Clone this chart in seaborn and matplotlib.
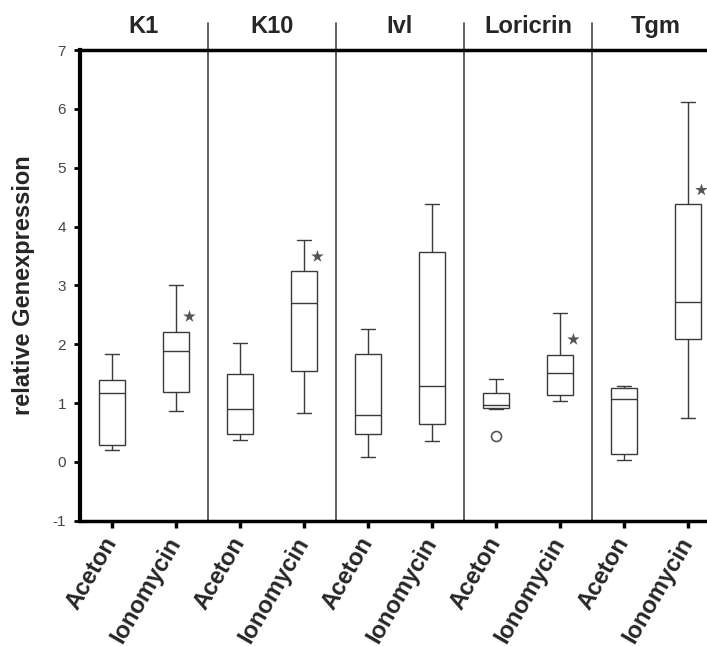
import numpy as np
import pandas as pd
import seaborn as sns
import matplotlib.pyplot as plt
from matplotlib.transforms import blended_transform_factory

# ---- data ----
genes = ["K1", "K10", "Ivl", "Loricrin", "Tgm"]
treatments = ["Aceton", "Ionomycin"]
# five-number summary of each box, order: K1-Aceton, K1-Ionomycin, K10-Aceton, ...
whisker_low = [0.21, 0.87, 0.37, 0.83, 0.08, 0.35, 0.89, 1.03, 0.03, 0.75]
q1 = [0.28, 1.18, 0.48, 1.54, 0.48, 0.65, 0.91, 1.13, 0.13, 2.09]
median = [1.17, 1.88, 0.90, 2.70, 0.79, 1.29, 0.97, 1.51, 1.07, 2.71]
q3 = [1.39, 2.21, 1.49, 3.24, 1.84, 3.57, 1.17, 1.82, 1.25, 4.39]
whisker_high = [1.84, 3.00, 2.02, 3.77, 2.26, 4.38, 1.41, 2.53, 1.29, 6.11]
# outlier points
outlier_gene = ["Loricrin"]
outlier_treatment = ["Aceton"]
outlier_value = [0.44]
# significance stars (next to Ionomycin boxes)
star_gene = ["K1", "K10", "Loricrin", "Tgm"]
star_value = [2.47, 3.49, 2.08, 4.62]

# ---- build long table ----
keys = [f"{g}|{t}" for g in genes for t in treatments]
rows = []
for i, k in enumerate(keys):
    for v in (whisker_low[i], q1[i], median[i], q3[i], whisker_high[i]):
        rows.append({"key": k, "value": v})
df = pd.DataFrame(rows)

sns.set_style("ticks")
plt.rcParams["font.family"] = ["Liberation Sans", "DejaVu Sans"]

W, H = 707, 646
fig = plt.figure(figsize=(W / 100, H / 100), dpi=100)
ax = fig.add_axes([80 / W, (H - 520.7) / H, 640 / W, 470.7 / H])

line_col = "#3a3a3a"
sns.boxplot(data=df, x="key", y="value", order=keys, width=0.41,
            color="white", linecolor=line_col, linewidth=1.0,
            fliersize=0, whis=1.5, ax=ax)

# outliers
ox = [keys.index(f"{g}|{t}") for g, t in zip(outlier_gene, outlier_treatment)]
sns.scatterplot(x=ox, y=outlier_value, marker="o", s=52, facecolor="white",
                edgecolor="#555555", linewidth=1.2, ax=ax, legend=False, zorder=5)

# stars
sx = [keys.index(f"{g}|Ionomycin") + 0.21 for g in star_gene]
sns.scatterplot(x=sx, y=star_value, marker="*", s=90, color="#555555",
                edgecolor="none", ax=ax, legend=False, zorder=5, clip_on=False)

ax.set_xlim(-0.5, len(keys) - 0.5)
ax.set_ylim(-1, 7)

# spines
ax.spines["right"].set_visible(False)
ax.spines["top"].set_linewidth(2.5)
ax.spines["left"].set_linewidth(3.0)
ax.spines["bottom"].set_linewidth(2.5)
for s in ("top", "left", "bottom"):
    ax.spines[s].set_color("black")

ax.set_yticks(range(-1, 8))
ax.set_yticklabels([str(v) for v in range(-1, 8)])
ax.tick_params(axis="y", direction="out", length=4, width=2, color="black",
               labelsize=11, labelcolor="#444444", pad=6)
ax.set_xticks(range(len(keys)))
ax.set_xticklabels([t for g in genes for t in treatments], rotation=60,
                   ha="right", va="center", rotation_mode="anchor",
                   fontsize=17, fontweight="bold")
ax.tick_params(axis="x", direction="out", length=5, width=2.5, color="black", pad=8)
ax.set_xlabel("")
ax.set_ylabel("relative Genexpression", fontsize=17, fontweight="bold")
ax.yaxis.set_label_coords(-0.071, 0.5)

trans = blended_transform_factory(ax.transData, ax.transAxes)
for i in range(1, len(genes)):
    ax.plot([2 * i - 0.5] * 2, [0, 1.057], transform=trans, color="#444444",
            lw=1.2, clip_on=False)
for i, g in enumerate(genes):
    ax.text(2 * i + 0.5, 1.049, g, transform=trans, ha="center", va="center",
            fontsize=17, fontweight="bold")

fig.savefig("out.png", dpi=100)
